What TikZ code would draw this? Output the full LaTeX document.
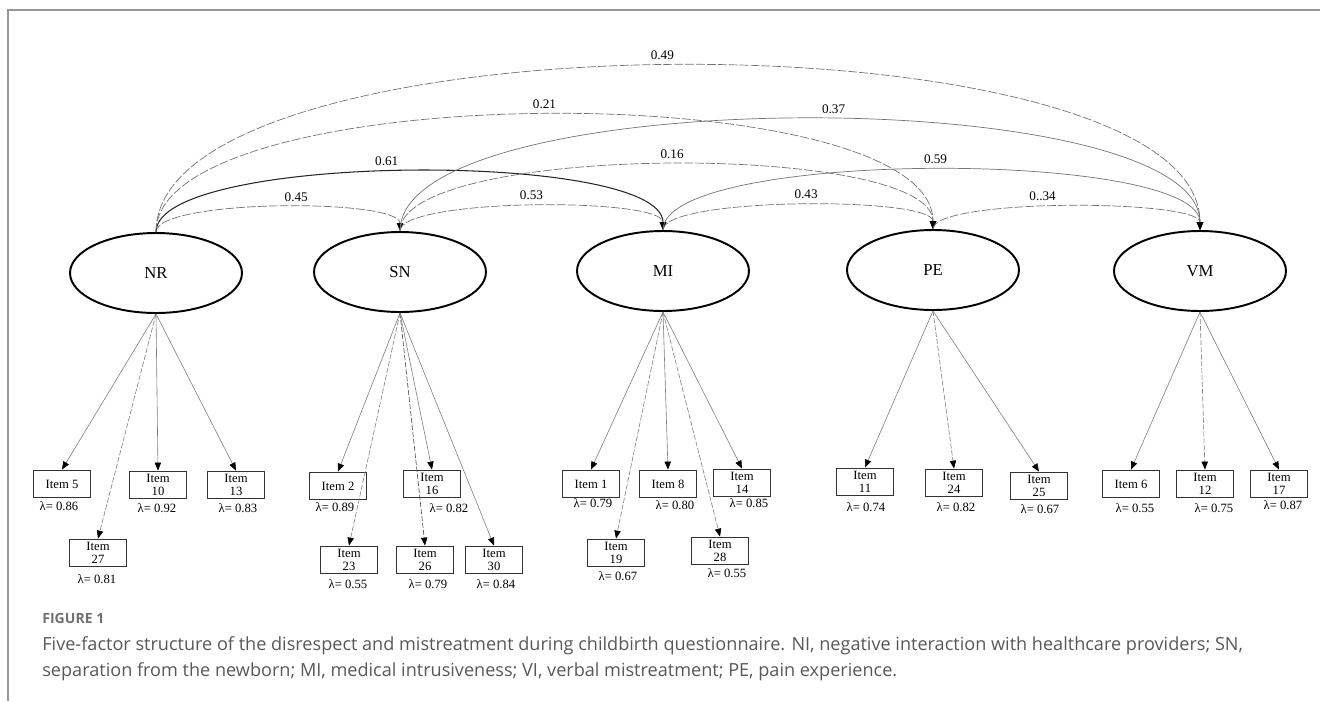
\documentclass[tikz,border=0pt]{standalone}
\usepackage{fontspec}
\setmainfont{Liberation Serif}
\newfontfamily\capfont{Open Sans}
\usetikzlibrary{shapes.geometric,arrows.meta}
\definecolor{capgray}{RGB}{88,88,88}
\definecolor{framegray}{RGB}{150,150,150}
\tikzset{
  lat/.style={ellipse,draw,line width=1.1pt,minimum width=3.44cm,minimum height=1.6cm,inner sep=0pt,font=\fontsize{9.5}{11}\selectfont},
  itembox/.style={draw=black!80,line width=1.1pt,minimum width=1.14cm,minimum height=0.54cm,inner sep=0pt,align=center,font=\fontsize{7.2}{7.6}\selectfont},
  lam/.style={inner sep=0pt,font=\fontsize{7.2}{8}\selectfont},
  est/.style={inner sep=1pt,font=\fontsize{7.5}{9}\selectfont},
  tip/.style={-{Triangle[length=4.5pt,width=3.6pt,color=black]}},
  cov/.style={tip,draw=black!55,line width=0.4pt},
  covd/.style={cov,dash pattern=on 5pt off 1.2pt},
  load/.style={tip,draw=black!50,line width=0.35pt},
  loadd/.style={load,dash pattern=on 3pt off 1pt}
}
\begin{document}
\begin{tikzpicture}[x=0.02cm,y=-0.02cm]
\useasboundingbox (0,0) rectangle (1320,701);
\draw[framegray,line width=1.2pt] (8,701) -- (8,10) -- (1320,10);

\node[lat] (NR) at (156,273) {NR};
\node[lat] (SN) at (400,272) {SN};
\node[lat] (MI) at (663,271) {MI};
\node[lat] (PE) at (933,270) {PE};
\node[lat] (VM) at (1200,271) {VM};

% correlations
\draw[covd] (NR.north) .. controls +(0,-33) and +(0,-33) .. (SN.north) node[est,pos=0.55,above=2pt] {0.45};
\draw[cov,draw=black!85,line width=0.6pt] (NR.north) .. controls +(0,-80) and +(0,-80) .. (MI.north) node[est,pos=0.47,above=2pt] {0.61};
\draw[covd] (NR.north) .. controls +(0,-155) and +(0,-155) .. (PE.north) node[est,pos=0.5,above=2pt] {0.21};
\draw[covd] (NR.north) .. controls +(0,-221) and +(0,-221) .. (VM.north) node[est,pos=0.49,above=2pt] {0.49};
\draw[covd] (SN.north) .. controls +(0,-33) and +(0,-33) .. (MI.north) node[est,pos=0.5,above=2pt] {0.53};
\draw[covd] (SN.north) .. controls +(0,-88) and +(0,-88) .. (PE.north) node[est,pos=0.507,above=2pt] {0.16};
\draw[cov] (SN.north) .. controls +(0,-149) and +(0,-149) .. (VM.north) node[est,pos=0.528,above=2pt] {0.37};
\draw[covd] (MI.north) .. controls +(0,-33) and +(0,-33) .. (PE.north) node[est,pos=0.52,above=2pt] {0.43};
\draw[cov] (MI.north) .. controls +(0,-81) and +(0,-81) .. (VM.north) node[est,pos=0.505,above=2pt] {0.59};
\draw[covd] (PE.north) .. controls +(0,-31) and +(0,-31) .. (VM.north) node[est,pos=0.44,above=2pt] {0..34};

% NR items
\node[itembox] (i5) at (62,484) {Item 5};
\node[itembox] (i27) at (98,553) {Item\\27};
\node[itembox] (i10) at (158,485) {Item\\10};
\node[itembox] (i13) at (236,485) {Item\\13};
\node[lam] (l5) at (59,506) {λ= 0.86};
\node[lam] (l27) at (97,579) {λ= 0.81};
\node[lam] (l10) at (157,508) {λ= 0.92};
\node[lam] (l13) at (238,508) {λ= 0.83};
\draw[load] (NR.south) -- (i5.north);
\draw[loadd] (NR.south) -- (i27.north);
\draw[load] (NR.south) -- (i10.north);
\draw[load] (NR.south) -- (i13.north);

% SN items
\node[itembox] (i2) at (338,486) {Item 2};
\node[itembox] (i23) at (349,560) {Item\\23};
\node[itembox] (i26) at (425,560) {Item\\26};
\node[itembox] (i16) at (432,484) {Item\\16};
\node[itembox] (i30) at (494,560) {Item\\30};
\node[lam] (l2) at (335,507) {λ= 0.89};
\node[lam] (l23) at (348,584) {λ= 0.55};
\node[lam] (l26) at (428,584) {λ= 0.79};
\node[lam] (l16) at (449,508) {λ= 0.82};
\node[lam] (l30) at (496,584) {λ= 0.84};
\draw[load] (SN.south) -- (i2.north);
\draw[loadd] (SN.south) -- (i23.north);
\draw[loadd,draw=black!70] (SN.south) -- (i26.north);
\draw[load] (SN.south) -- (i16.north);
\draw[load] (SN.south) -- (i30.north);

% MI items
\node[itembox] (i1) at (591,484) {Item 1};
\node[itembox] (i19) at (616,553) {Item\\19};
\node[itembox] (i8) at (668,484) {Item 8};
\node[itembox] (i28) at (720,551) {Item\\28};
\node[itembox] (i14) at (742,483) {Item\\14};
\node[lam] (l1) at (593,503) {λ= 0.79};
\node[lam] (l19) at (618,576) {λ= 0.67};
\node[lam] (l8) at (675,505) {λ= 0.80};
\node[lam] (l28) at (727,573) {λ= 0.55};
\node[lam] (l14) at (749,503) {λ= 0.85};
\draw[load] (MI.south) -- (i1.north);
\draw[loadd] (MI.south) -- (i19.north);
\draw[load] (MI.south) -- (i8.north);
\draw[loadd] (MI.south) -- (i28.north);
\draw[load] (MI.south) -- (i14.north);

% PE items
\node[itembox] (i11) at (865,482) {Item\\11};
\node[itembox] (i24) at (954,483) {Item\\24};
\node[itembox] (i25) at (1039,486) {Item\\25};
\node[lam] (l11) at (866,507) {λ= 0.74};
\node[lam] (l24) at (956,507) {λ= 0.82};
\node[lam] (l25) at (1040,509) {λ= 0.67};
\draw[load] (PE.south) -- (i11.north);
\draw[loadd] (PE.south) -- (i24.north);
\draw[load] (PE.south) -- (i25.north);

% VM items
\node[itembox] (i6) at (1131,484) {Item 6};
\node[itembox] (i12) at (1205,484) {Item\\12};
\node[itembox] (i17) at (1279,484) {Item\\17};
\node[lam] (l6) at (1135,508) {λ= 0.55};
\node[lam] (l12) at (1214,508) {λ= 0.75};
\node[lam] (l17) at (1283,505) {λ= 0.87};
\draw[load] (VM.south) -- (i6.north);
\draw[loadd] (VM.south) -- (i12.north);
\draw[load] (VM.south) -- (i17.north);

% caption
\node[anchor=base west,inner sep=0pt,text=capgray!85,font=\capfont\bfseries\fontsize{8}{9}\selectfont] (fig) at (42,623) {FIGURE 1};
\node[anchor=base west,inner sep=0pt,text=capgray,font=\capfont\fontsize{10.3}{11}\selectfont] (cap1) at (42,650) {Five-factor structure of the disrespect and mistreatment during childbirth questionnaire. NI, negative interaction with healthcare providers; SN,};
\node[anchor=base west,inner sep=0pt,text=capgray,font=\capfont\fontsize{10.3}{11}\selectfont] (cap2) at (42,676) {separation from the newborn; MI, medical intrusiveness; VI, verbal mistreatment; PE, pain experience.};
\end{tikzpicture}
\end{document}
